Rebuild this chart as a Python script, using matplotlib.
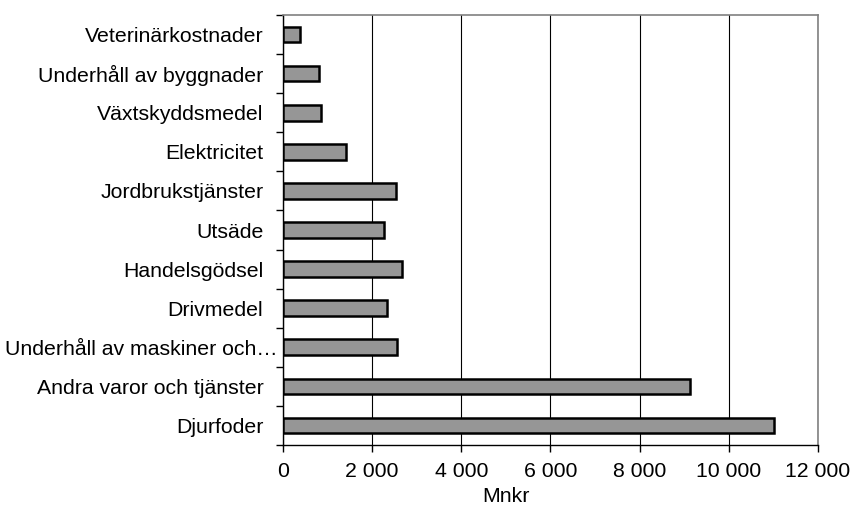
import matplotlib
matplotlib.use("Agg")
import matplotlib.pyplot as plt
import matplotlib.transforms as mtransforms
import numpy as np

# kategorier nerifrån och upp
kategorier = [
    "Djurfoder",
    "Andra varor och tjänster",
    "Underhåll av maskiner och…",
    "Drivmedel",
    "Handelsgödsel",
    "Utsäde",
    "Jordbrukstjänster",
    "Elektricitet",
    "Växtskyddsmedel",
    "Underhåll av byggnader",
    "Veterinärkostnader",
]
mnkr = [11020, 9125, 2565, 2345, 2680, 2275, 2545, 1425, 860, 805, 380]
xticks = [0, 2000, 4000, 6000, 8000, 10000, 12000]
xticklabels = ["0", "2 000", "4 000", "6 000", "8 000", "10 000", "12 000"]

plt.rcParams["font.family"] = ["Liberation Sans", "DejaVu Sans"]
fs = 15.3

fig = plt.figure(figsize=(8.57, 5.09), dpi=100)
ax = fig.add_axes([0.33, 0.1257, 0.6245, 0.8448])

y = np.arange(len(kategorier))
ax.barh(y, mnkr, height=0.4, color="#969696", edgecolor="black", linewidth=1.8, zorder=3)

ax.set_xlim(0, 12000)
ax.set_ylim(-0.5, len(kategorier) - 0.5)
ax.set_xticks(xticks)
ax.set_xticklabels(xticklabels, fontsize=fs)
ax.set_yticks(y)
ax.set_yticklabels(kategorier, fontsize=fs)
ax.tick_params(axis="y", length=0, pad=14)
ax.set_yticks(np.arange(-0.5, len(kategorier)), minor=True)
ax.tick_params(axis="y", which="minor", length=5, width=1, color="black")
ax.tick_params(axis="x", length=5, width=1, color="black", pad=7)
ax.set_xlabel("Mnkr", fontsize=fs)
ax.xaxis.set_label_coords(0.416, -0.098)

# den avkortade etiketten står närmare axeln
lbl = ax.get_yticklabels()[2]
lbl.set_transform(lbl.get_transform() + mtransforms.ScaledTranslation(14 / 100, 0, fig.dpi_scale_trans))

ax.grid(axis="x", color="black", linewidth=0.8, zorder=0)
ax.set_axisbelow(True)
for s in ["top", "right"]:
    ax.spines[s].set_color("#808080")
    ax.spines[s].set_linewidth(1.2)
for s in ["left", "bottom"]:
    ax.spines[s].set_color("black")
    ax.spines[s].set_linewidth(1.0)

fig.savefig("out.png", dpi=100)
